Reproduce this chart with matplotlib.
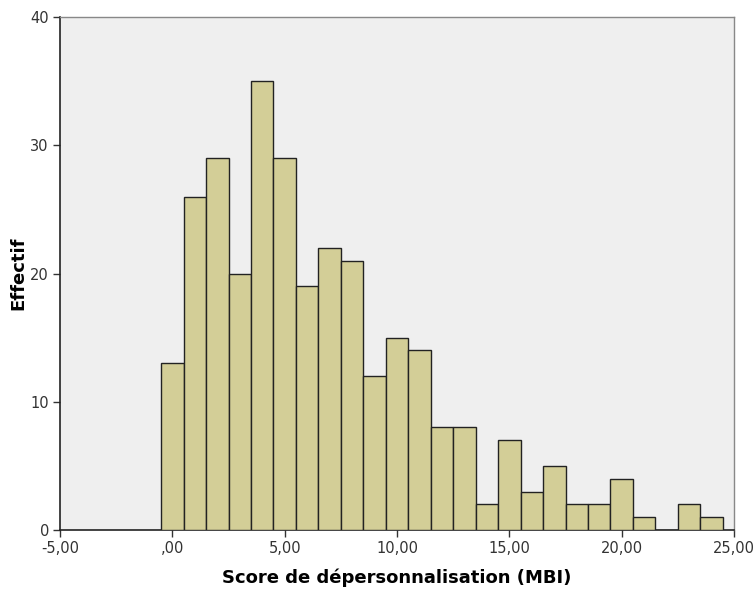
import matplotlib.pyplot as plt
import numpy as np

# score bins (width 1, centred on each integer) and counts
scores = list(range(0, 25))
counts = [13, 26, 29, 20, 35, 29, 19, 22, 21, 12, 15, 14, 8, 8, 2, 7, 3, 5, 2, 2, 4, 1, 0, 2, 1]

x_ticks = [-5, 0, 5, 10, 15, 20, 25]
x_labels = ['-5,00', ',00', '5,00', '10,00', '15,00', '20,00', '25,00']
y_ticks = [0, 10, 20, 30, 40]

fig = plt.figure(figsize=(7.54, 5.94), dpi=100)
ax = fig.add_axes([0.0796, 0.1077, 0.8939, 0.8637])
ax.set_facecolor('#efefef')

ax.bar(scores, counts, width=1.0, color='#d3ce97', edgecolor='#222222', linewidth=1.0, zorder=3)

ax.set_xlim(-5, 25)
ax.set_ylim(0, 40)
ax.set_xticks(x_ticks)
ax.set_xticklabels(x_labels)
ax.set_yticks(y_ticks)
ax.tick_params(axis='both', labelsize=10.5, length=5, width=1, colors='#333333', pad=3)

for side in ['left', 'bottom']:
    ax.spines[side].set_color('#222222')
    ax.spines[side].set_linewidth(1.2)
for side in ['top', 'right']:
    ax.spines[side].set_color('#888888')
    ax.spines[side].set_linewidth(1.0)

ax.set_xlabel('Score de dépersonnalisation (MBI)', fontsize=13, fontweight='bold', labelpad=9)
ax.set_ylabel('Effectif', fontsize=13, fontweight='bold', labelpad=2)

fig.savefig('out.png', dpi=100)
